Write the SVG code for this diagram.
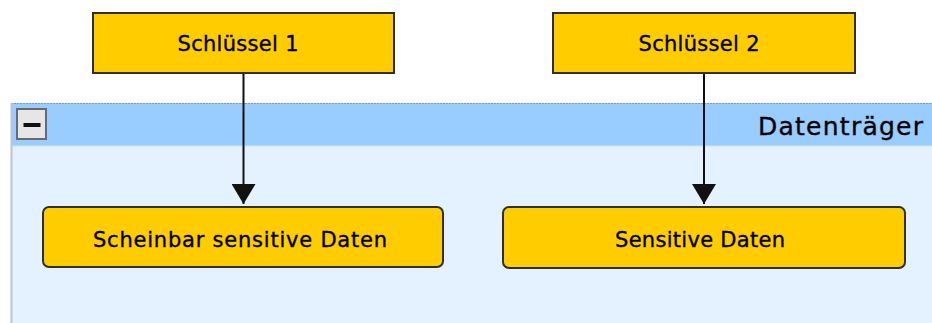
<svg xmlns="http://www.w3.org/2000/svg" width="932" height="323" viewBox="0 0 932 323">
  <defs>
    <style>
      .node rect { fill: #ffcc00; stroke: #2e2e2e; stroke-width: 2; }
      .label { font-family: "DejaVu Sans", "Noto Sans", sans-serif; font-size: 21px; fill: #000; stroke: #000; stroke-width: 0.35; text-anchor: middle; }
      .edge { stroke: #111; stroke-width: 2; fill: none; }
      .title { font-family: "DejaVu Sans", "Noto Sans", sans-serif; font-size: 25px; fill: #000; stroke: #000; stroke-width: 0.35; }
    </style>
    <marker id="arrow" markerWidth="20" markerHeight="24" refX="20" refY="12" orient="auto" markerUnits="userSpaceOnUse" viewBox="0 0 20 24">
      <path d="M0,0 L20,12 L0,24 Z" fill="#111"/>
    </marker>
  </defs>
  <rect width="932" height="323" fill="#ffffff"/>

  <!-- Datenträger group container -->
  <g id="datentraeger">
    <rect x="11" y="103" width="930" height="230" fill="#e3f2fe"/>
    <rect x="11" y="103" width="930" height="43" fill="#99ccff"/>
    <line x1="11" y1="146" x2="932" y2="146" stroke="#cfe5fb" stroke-width="1"/>
    <line x1="11" y1="103.5" x2="932" y2="103.5" stroke="#8a96b8" stroke-width="1" stroke-dasharray="2,1"/>
    <line x1="11.5" y1="103" x2="11.5" y2="323" stroke="#b8c2dc" stroke-width="2"/>
    <!-- collapse button -->
    <rect x="17" y="109" width="29" height="30" fill="#e6e6e6" stroke="#6a6a6a" stroke-width="2"/>
    <rect x="23.5" y="123" width="17" height="4" fill="#111"/>
    <text class="title" x="758" y="135" textLength="165" lengthAdjust="spacing">Datenträger</text>
  </g>

  <!-- connectors -->
  <g id="connectors">
    <line class="edge" x1="243.5" y1="73" x2="243.5" y2="204" marker-end="url(#arrow)"/>
    <line class="edge" x1="704" y1="73" x2="704" y2="204" marker-end="url(#arrow)"/>
  </g>

  <g id="schluessel1" class="node">
    <rect x="93" y="13" width="301" height="60"/>
    <text class="label" x="238" y="51" textLength="121" lengthAdjust="spacing">Schlüssel 1</text>
  </g>

  <g id="schluessel2" class="node">
    <rect x="553" y="13" width="302" height="60"/>
    <text class="label" x="699" y="51" textLength="121" lengthAdjust="spacing">Schlüssel 2</text>
  </g>

  <g id="scheinbar" class="node">
    <rect x="43" y="207" width="400" height="60" rx="6" ry="6"/>
    <text class="label" x="240" y="247" textLength="294" lengthAdjust="spacing">Scheinbar sensitive Daten</text>
  </g>

  <g id="sensitive" class="node">
    <rect x="503" y="207" width="402" height="61" rx="6" ry="6"/>
    <text class="label" x="700" y="247" textLength="170" lengthAdjust="spacing">Sensitive Daten</text>
  </g>
</svg>
